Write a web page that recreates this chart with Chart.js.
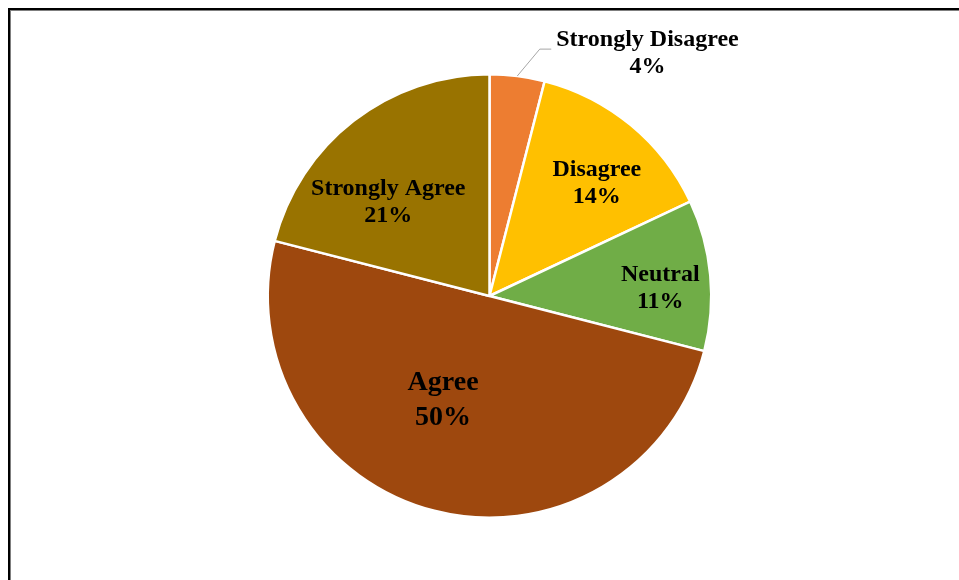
<!DOCTYPE html>
<html>
<head>
<meta charset="utf-8">
<script src="https://cdn.jsdelivr.net/npm/chart.js@4/dist/chart.umd.min.js"></script>
<style>
  html, body { margin: 0; padding: 0; background: #fff; overflow: hidden; }
  #wrap { position: relative; width: 959px; height: 580px; overflow: hidden; }
  #frame {
    position: absolute; left: 8px; top: 8px; width: 2000px; height: 2000px;
    border: 2px solid #000; box-shadow: inset 1px 1px 0 #7f7f7f;
  }
  canvas { position: absolute; left: 0; top: 0; }
</style>
</head>
<body>
<div id="wrap">
  <div id="frame"></div>
  <canvas id="chart" width="959" height="580"></canvas>
</div>
<script>
// Survey responses, clockwise from 12 o'clock
const categories = ['Strongly Disagree', 'Disagree', 'Neutral', 'Agree', 'Strongly Agree'];
const shares = [4, 14, 11, 50, 21];
const sliceColors = ['#ED7D31', '#FFC000', '#70AD47', '#9E480E', '#997300'];

// Label placement: fraction of the radius and angular nudge (degrees) from the slice mid-angle
const labelPlacement = [
  { r: 1.284, da: 26.5, size: 24, lead: 27, outside: true },
  { r: 0.681, da: 5.7, size: 24, lead: 27 },
  { r: 0.770, da: 5.0, size: 24, lead: 27 },
  { r: 0.545, da: 8.2, size: 28, lead: 35 },
  { r: 0.603, da: -11.4, size: 24, lead: 27 }
];

const sliceLabels = {
  id: 'sliceLabels',
  afterDatasetsDraw(chart) {
    const ctx = chart.ctx;
    const meta = chart.getDatasetMeta(0);
    const values = chart.data.datasets[0].data;
    meta.data.forEach((arc, i) => {
      const p = labelPlacement[i];
      const { x, y, startAngle, endAngle, outerRadius } = arc.getProps(['x', 'y', 'startAngle', 'endAngle', 'outerRadius'], true);
      const mid = (startAngle + endAngle) / 2;
      const a = mid + p.da * Math.PI / 180;
      const cx = x + Math.cos(a) * outerRadius * p.r;
      const cy = y + Math.sin(a) * outerRadius * p.r;
      ctx.save();
      ctx.font = 'bold ' + p.size + "px 'Liberation Serif', 'Times New Roman', serif";
      ctx.fillStyle = '#000';
      ctx.textAlign = 'center';
      ctx.textBaseline = 'alphabetic';
      const line1 = chart.data.labels[i];
      const line2 = values[i] + '%';
      ctx.fillText(line1, cx, cy - p.lead / 2);
      ctx.fillText(line2, cx, cy + p.lead / 2);
      if (p.outside) {
        const w = ctx.measureText(line1).width;
        const ex = cx - w / 2 - 5;
        const ey = cy - 10;
        ctx.strokeStyle = '#A6A6A6';
        ctx.lineWidth = 1;
        ctx.beginPath();
        ctx.moveTo(x + Math.cos(mid) * outerRadius, y + Math.sin(mid) * outerRadius);
        ctx.lineTo(ex - 11.5, ey);
        ctx.lineTo(ex, ey);
        ctx.stroke();
      }
      ctx.restore();
    });
  }
};

new Chart(document.getElementById('chart'), {
  type: 'pie',
  data: {
    labels: categories,
    datasets: [{
      data: shares,
      backgroundColor: sliceColors,
      borderColor: '#FFFFFF',
      borderWidth: 2.5
    }]
  },
  options: {
    responsive: false,
    animation: false,
    layout: { padding: { top: 73, bottom: 61, left: 20, right: 0 } },
    plugins: {
      legend: { display: false },
      tooltip: { enabled: false }
    }
  },
  plugins: [sliceLabels]
});
</script>
</body>
</html>
